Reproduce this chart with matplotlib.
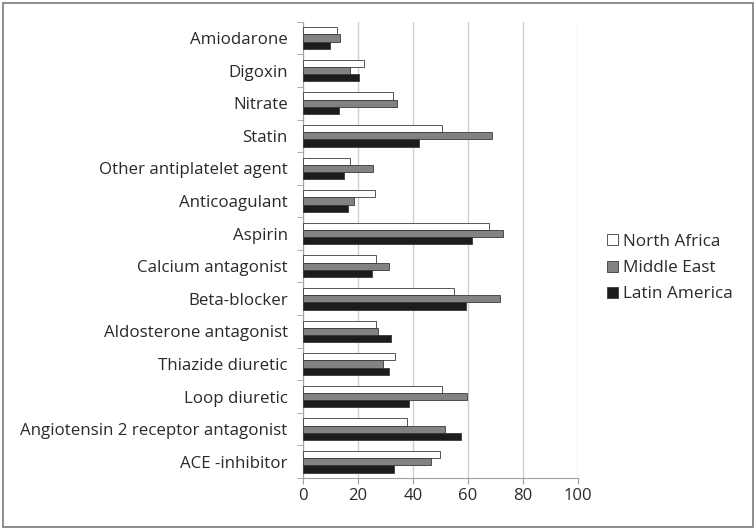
import matplotlib

matplotlib.use("Agg")
import matplotlib.pyplot as plt
import numpy as np
from matplotlib.patches import Rectangle

plt.rcParams["font.family"] = ["Open Sans", "DejaVu Sans"]

# categories listed bottom to top as drawn
DRUGS = [
    "ACE -inhibitor",
    "Angiotensin 2 receptor antagonist",
    "Loop diuretic",
    "Thiazide diuretic",
    "Aldosterone antagonist",
    "Beta-blocker",
    "Calcium antagonist",
    "Aspirin",
    "Anticoagulant",
    "Other antiplatelet agent",
    "Statin",
    "Nitrate",
    "Digoxin",
    "Amiodarone",
]
NORTH_AFRICA = [49.7, 37.8, 50.5, 33.3, 26.7, 54.8, 26.7, 67.5, 26.3, 17.2, 50.5, 32.6, 22.3, 12.4]
MIDDLE_EAST = [46.5, 51.5, 59.5, 29.2, 27.3, 71.5, 31.4, 72.6, 18.4, 25.3, 68.7, 34.2, 17.2, 13.3]
LATIN_AMERICA = [33.2, 57.5, 38.4, 31.4, 32.1, 59.3, 25.2, 61.5, 16.2, 15.0, 42.2, 13.1, 20.2, 9.9]
X_TICKS = [0, 20, 40, 60, 80, 100]


def main() -> None:
    fig = plt.figure(figsize=(7.56, 5.30), dpi=100)
    ax = fig.add_axes([0.4008, 0.098, 0.3638, 0.861])

    y = np.arange(len(DRUGS))
    h = 0.22
    common = dict(height=h, edgecolor="#3a3a3a", linewidth=0.6, zorder=3)
    ax.barh(y + h, NORTH_AFRICA, color="white", label="North Africa", **common)
    ax.barh(y, MIDDLE_EAST, color="#828282", label="Middle East", **common)
    ax.barh(y - h, LATIN_AMERICA, color="#1c1c1c", label="Latin America", **common)

    ax.set_xlim(0, 100)
    ax.set_ylim(-0.5, len(DRUGS) - 0.5)
    ax.set_xticks(X_TICKS)
    ax.set_yticks(y)
    ax.set_yticklabels(DRUGS)
    ax.set_yticks(np.arange(len(DRUGS) + 1) - 0.5, minor=True)
    ax.tick_params(axis="y", which="major", length=0, labelsize=12.2, labelcolor="#2a2a2a", pad=11)
    ax.tick_params(axis="y", which="minor", length=4, color="#a0a0a0")
    ax.tick_params(axis="x", length=4, color="#a0a0a0", labelsize=12, labelcolor="#2a2a2a", pad=3.5)

    ax.grid(axis="x", color="#d0d0d0", linewidth=1.0, zorder=0)
    ax.set_axisbelow(True)
    for side in ("top", "right"):
        ax.spines[side].set_visible(False)
    for side in ("left", "bottom"):
        ax.spines[side].set_color("#a0a0a0")

    fig.legend(
        loc="center left",
        bbox_to_anchor=(0.783, 0.494),
        frameon=False,
        fontsize=12.3,
        labelspacing=0.6,
        handlelength=0.6,
        handleheight=0.6,
        handletextpad=0.3,
        labelcolor="#2a2a2a",
    )

    fig.patches.append(
        Rectangle((0.004, 0.006), 0.992, 0.988, transform=fig.transFigure,
                  fill=False, edgecolor="#7a7a7a", linewidth=1.2)
    )

    fig.savefig("out.png", dpi=100)
    plt.close(fig)


if __name__ == "__main__":
    main()
